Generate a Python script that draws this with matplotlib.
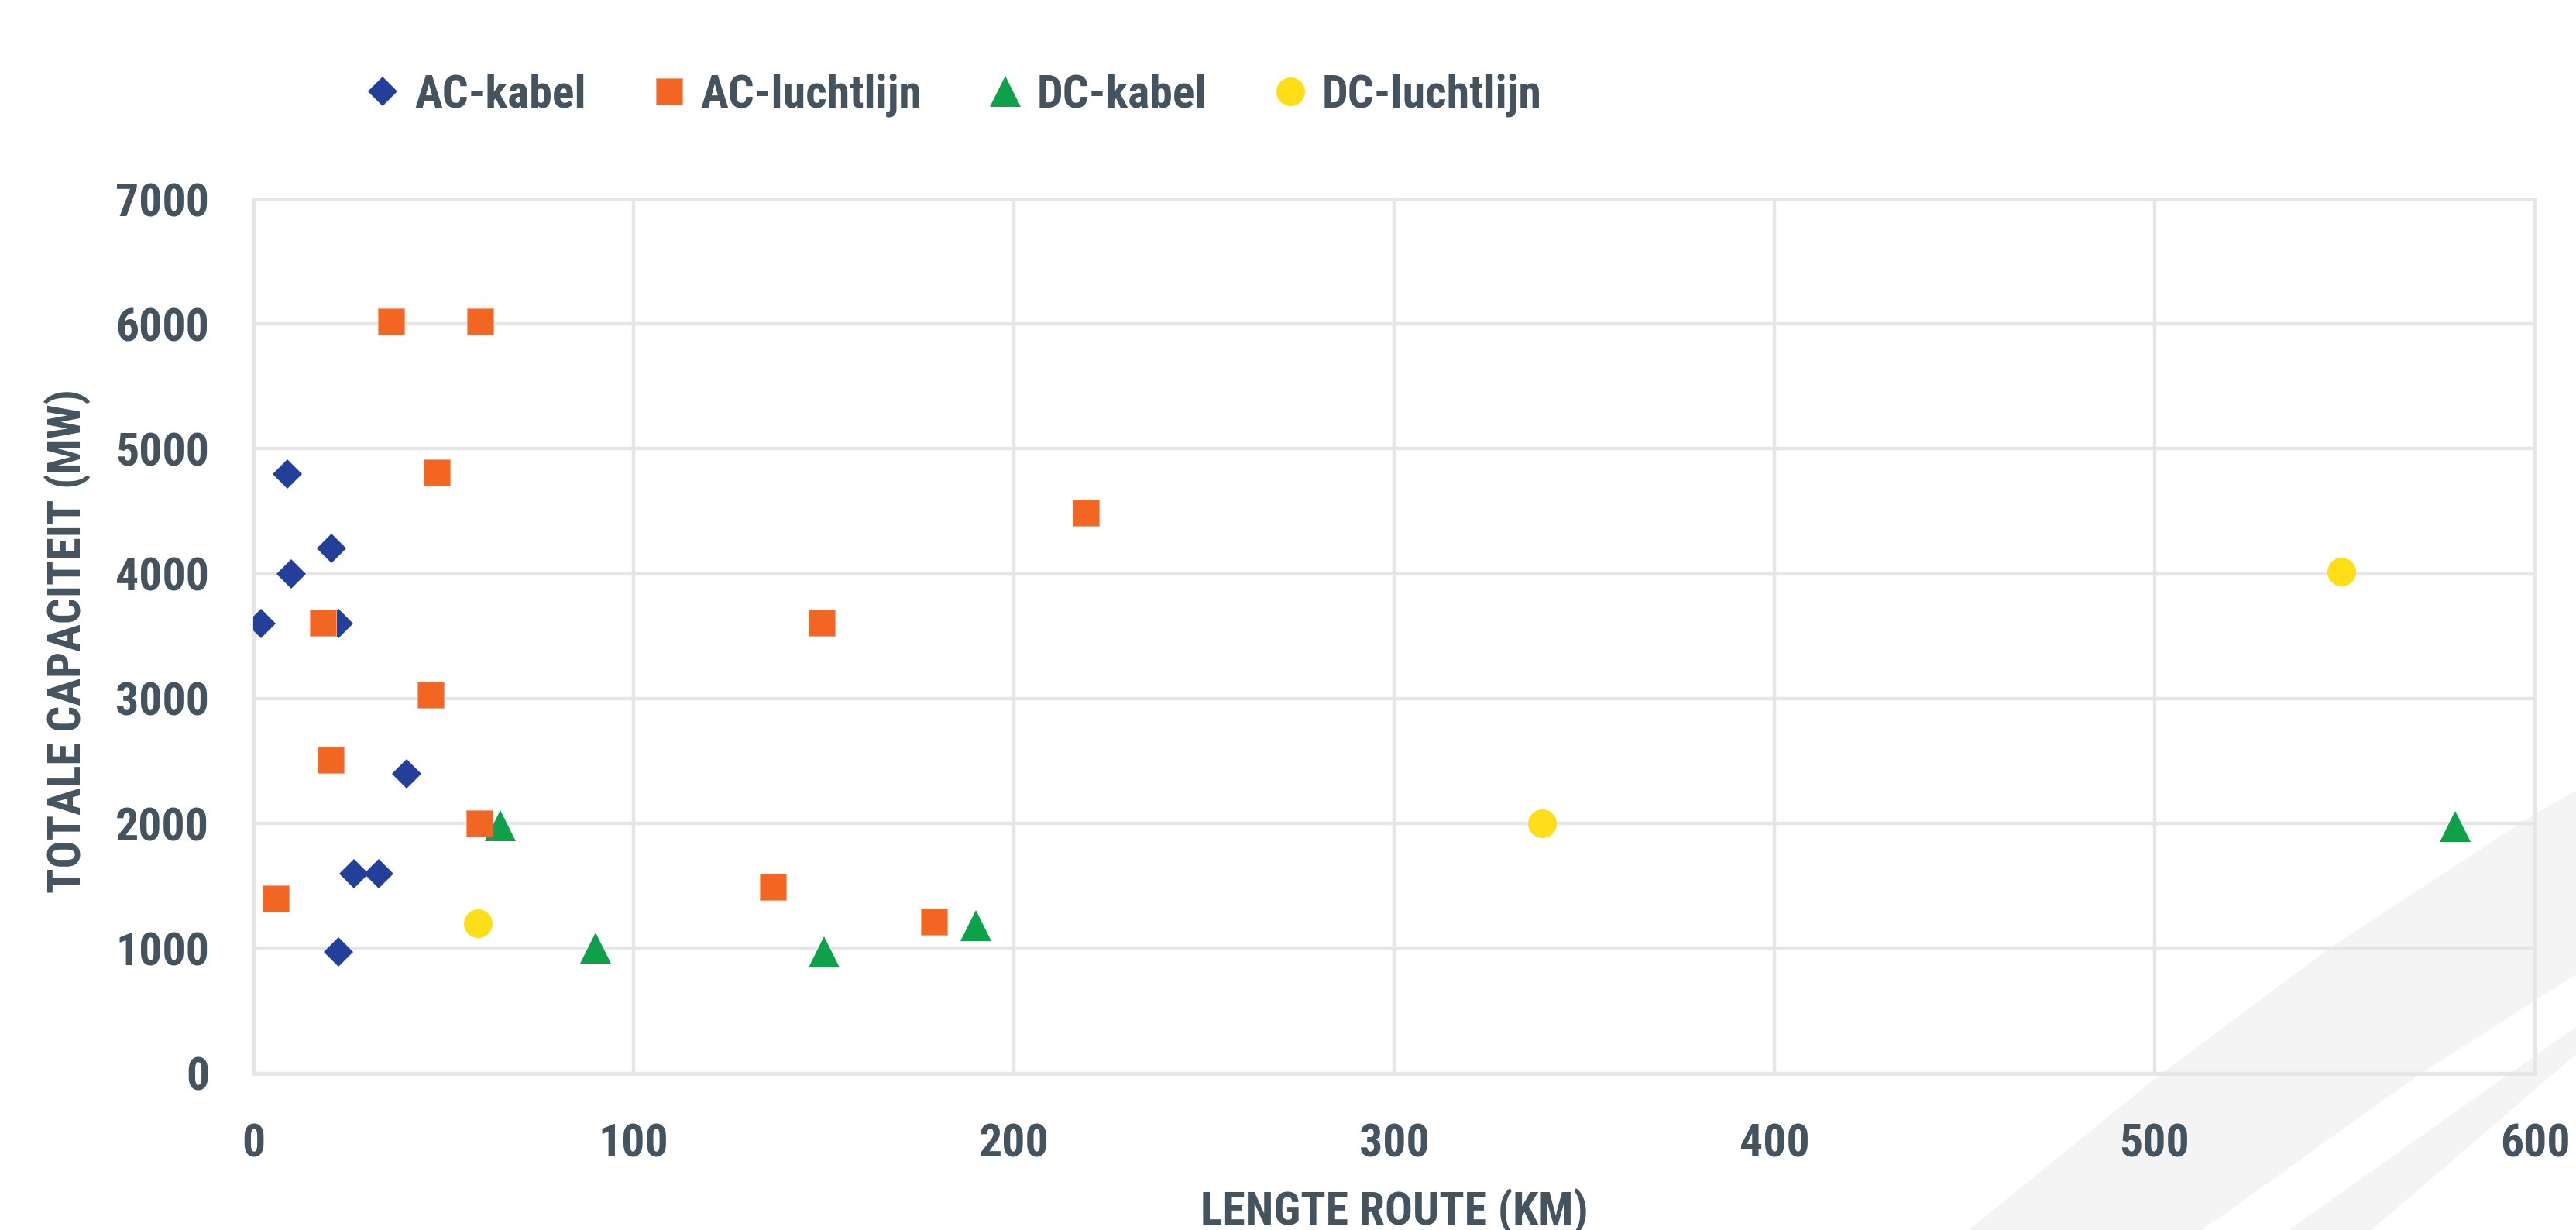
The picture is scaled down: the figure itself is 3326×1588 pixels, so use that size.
import matplotlib
matplotlib.use("Agg")
import matplotlib.pyplot as plt
from matplotlib import font_manager
from matplotlib.patches import Polygon

# route length (km) and total capacity (MW) per project type
ac_kabel_km = [2, 9, 10, 20.5, 22.5, 40.4, 26.5, 33, 22.4]
ac_kabel_mw = [3600, 4800, 4000, 4200, 3600, 2400, 1600, 1600, 970]
ac_lucht_km = [6, 18.3, 20.4, 36.2, 46.6, 48.3, 59.5, 59.7, 136.7, 149.5, 179.1, 219]
ac_lucht_mw = [1400, 3610, 2510, 6020, 3030, 4810, 2000, 6020, 1490, 3610, 1210, 4490]
dc_kabel_km = [65, 90, 150, 190, 579]
dc_kabel_mw = [1980, 1000, 970, 1180, 1975]
dc_lucht_km = [59, 339, 549]
dc_lucht_mw = [1200, 2000, 4015]

series_names = ["AC-kabel", "AC-luchtlijn", "DC-kabel", "DC-luchtlijn"]
x_ticks = [0, 100, 200, 300, 400, 500, 600]
y_ticks = [0, 1000, 2000, 3000, 4000, 5000, 6000, 7000]

# condensed bold font if one is around
installed = {f.name for f in font_manager.fontManager.ttflist}
font = "DejaVu Sans"
for cand in ["Roboto Condensed", "Liberation Sans Narrow", "Open Sans Condensed", "Roboto"]:
    if cand in installed:
        font = cand
        break
plt.rcParams["font.family"] = [font, "DejaVu Sans"]
plt.rcParams["font.weight"] = "bold"
plt.rcParams["font.stretch"] = "condensed"

txt = "#44535e"
grid = "#e5e6e8"
fs = 21.5

W, H = 3326, 1588
fig = plt.figure(figsize=(W / 200, H / 200), dpi=200)

# light background stripes (bottom right), kept under the axes
band_a = [(2542, 1588), (2787, 1389), (3014, 1220), (3274, 1050), (3326, 1021),
          (3326, 1258), (3124, 1387), (2843, 1588)]
band_b = [(2955, 1588), (3239, 1387), (3326, 1326), (3326, 1361), (3062, 1588)]
for band in (band_a, band_b):
    fig.patches.append(Polygon([(x / W, 1 - y / H) for x, y in band], closed=True,
                               transform=fig.transFigure, facecolor="#f4f4f4",
                               edgecolor="none", zorder=-1))

ax = fig.add_axes([327 / W, 1 - 1385.5 / H, (3273 - 327) / W, (1385.5 - 257) / H])
ax.set_facecolor("none")

ax.plot(ac_kabel_km, ac_kabel_mw, "D", ls="none", color="#233f99", ms=9.8, mew=0,
        label=series_names[0], zorder=3)
ax.plot(ac_lucht_km, ac_lucht_mw, "s", ls="none", color="#f26522", ms=11.9, mew=0.4,
        mec="#f7a47c", label=series_names[1], zorder=5)
ax.plot(dc_kabel_km, dc_kabel_mw, "^", ls="none", color="#0fa14a", ms=14.5, mew=0,
        label=series_names[2], zorder=4)
ax.plot(dc_lucht_km, dc_lucht_mw, "o", ls="none", color="#ffdd17", ms=13.3, mew=0,
        label=series_names[3], zorder=6)

ax.set_xlim(0, 600)
ax.set_ylim(0, 7000)
ax.set_xticks(x_ticks)
ax.set_yticks(y_ticks)
ax.grid(True, color=grid, lw=1.6, zorder=1)
ax.set_axisbelow(True)
for sp in ax.spines.values():
    sp.set_color(grid)
    sp.set_linewidth(1.8)
ax.tick_params(length=0, labelsize=fs, labelcolor=txt)
ax.tick_params(axis="y", pad=20.5)
ax.tick_params(axis="x", pad=23)

ax.set_xlabel("LENGTE ROUTE (KM)", fontsize=fs, color=txt, fontweight="bold")
ax.set_ylabel("TOTALE CAPACITEIT (MW)", fontsize=fs, color=txt, fontweight="bold")
ax.xaxis.set_label_coords(0.5, -0.132)
ax.yaxis.set_label_coords(-0.071, 0.494)

leg = fig.legend(loc="center", bbox_to_anchor=(1232 / W, 1 - 123 / H), ncol=4,
                 frameon=False, fontsize=fs, handlelength=0.7, handletextpad=0.33,
                 columnspacing=1.45, borderaxespad=0)
for t in leg.get_texts():
    t.set_color(txt)

fig.savefig("out.png", dpi=200)
